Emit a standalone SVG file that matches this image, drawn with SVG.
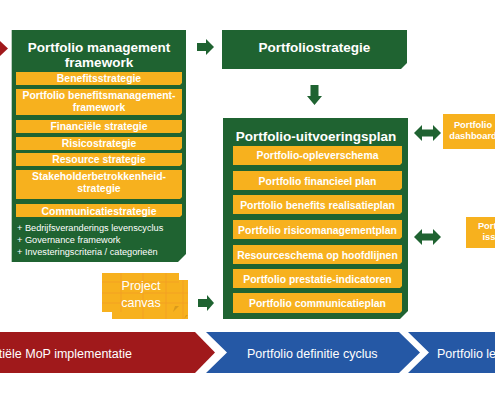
<svg xmlns="http://www.w3.org/2000/svg" width="495" height="400" viewBox="0 0 495 400">
<defs>
<style>
.g{fill:#1F6331}
.o{fill:#F7B11E}
.oc{fill:#D99A1A}
.tt{font-family:"Liberation Sans",Arial,sans-serif;font-weight:bold;font-size:13.5px;fill:#fff;text-anchor:middle}
.bt{font-family:"Liberation Sans",Arial,sans-serif;font-weight:bold;font-size:10.4px;fill:#fff;text-anchor:middle}
.sm{font-family:"Liberation Sans",Arial,sans-serif;font-size:9.2px;fill:#fff}
.st{font-family:"Liberation Sans",Arial,sans-serif;font-weight:bold;font-size:9.3px;fill:#fff;text-anchor:middle}
.ch{font-family:"Liberation Sans",Arial,sans-serif;font-size:12.5px;fill:#fff}
.gl{stroke:#F0982A;stroke-width:0.7;fill:none;opacity:0.8}
</style>
</defs>
<rect width="495" height="400" fill="#fff"/>

<g id="connectors">
<polygon points="0,41 8,48.5 0,56" fill="#A0191B"/>
<polygon class="g" points="197,43 206,43 206,39 214,47 206,55 206,51 197,51"/>
<polygon class="g" points="310.5,85 318.5,85 318.5,96 322,96 314.5,105 307,96 310.5,96"/>
<polygon class="g" points="198,299 207,299 207,295 214,303 207,311 207,307 198,307"/>
<polygon class="g" points="414,133 422,125 422,129.5 433,129.5 433,125 441,133 433,141 433,136.5 422,136.5 422,141"/>
<polygon class="g" points="414,237 422,229 422,233.5 433,233.5 433,229 441,237 433,245 433,240.5 422,240.5 422,245"/>
</g>

<g id="framework">
<path class="g" d="M11.7,30 H186 V254 L178,262 H11.7 Z"/>
<text class="tt" x="99" y="52">Portfolio management</text>
<text class="tt" x="99" y="67">framework</text>
<path class="o" d="M16,72 H182 V83 L180,85 H16 Z"/>
<text class="bt" x="99" y="82">Benefitsstrategie</text>
<path class="o" d="M16,89 H182 V113 L180,115 H16 Z"/>
<text class="bt" x="99" y="99">Portfolio benefitsmanagement-</text>
<text class="bt" x="99" y="111">framework</text>
<path class="o" d="M16,120 H182 V131 L180,133 H16 Z"/>
<text class="bt" x="99" y="130">Financiële strategie</text>
<path class="o" d="M16,137 H182 V148 L180,150 H16 Z"/>
<text class="bt" x="99" y="146.5">Risicostrategie</text>
<path class="o" d="M16,153 H182 V164 L180,166 H16 Z"/>
<text class="bt" x="99" y="163">Resource strategie</text>
<path class="o" d="M16,170 H182 V197 L180,199 H16 Z"/>
<text class="bt" x="99" y="180">Stakeholderbetrokkenheid-</text>
<text class="bt" x="99" y="192">strategie</text>
<path class="o" d="M16,204 H182 V215 L180,217 H16 Z"/>
<text class="bt" x="99" y="214.5">Communicatiestrategie</text>
<text class="sm" x="17" y="230.5">+ Bedrijfsveranderings levenscyclus</text>
<text class="sm" x="17" y="242.5">+ Governance framework</text>
<text class="sm" x="17" y="254.5">+ Investeringscriteria / categorieën</text>
</g>

<g id="portfoliostrategie">
<path class="g" d="M222,30 H407 V63 L401,69 H222 Z"/>
<text class="tt" x="314.5" y="52">Portfoliostrategie</text>
</g>

<g id="uitvoeringsplan">
<path class="g" d="M223,118 H408 V311 L400,319 H223 Z"/>
<text class="tt" x="316" y="141">Portfolio-uitvoeringsplan</text>
<path class="o" d="M233,146 H402 V163 L400,165 H233 Z"/>
<text class="bt" x="317.5" y="159">Portfolio-opleverschema</text>
<path class="o" d="M233,171 H402 V188 L400,190 H233 Z"/>
<text class="bt" x="317.5" y="184.5">Portfolio financieel plan</text>
<path class="o" d="M233,195 H402 V212 L400,214 H233 Z"/>
<text class="bt" x="317.5" y="208.5">Portfolio benefits realisatieplan</text>
<path class="o" d="M233,220 H402 V237 L400,239 H233 Z"/>
<text class="bt" x="317.5" y="233.5">Portfolio risicomanagementplan</text>
<path class="o" d="M233,245 H402 V262 L400,264 H233 Z"/>
<text class="bt" x="317.5" y="258.5">Resourceschema op hoofdlijnen</text>
<path class="o" d="M233,269 H402 V286 L400,288 H233 Z"/>
<text class="bt" x="317.5" y="282.5">Portfolio prestatie-indicatoren</text>
<path class="o" d="M233,293 H402 V311 L400,313 H233 Z"/>
<text class="bt" x="317.5" y="307">Portfolio communicatieplan</text>
</g>

<g id="dashboard">
<rect class="o" x="443" y="114" width="62" height="35"/>
<text class="st" x="473" y="127.5">Portfolio</text>
<text class="st" x="473" y="139">dashboard</text>
</g>

<g id="issues">
<rect class="o" x="466" y="217" width="64" height="31"/>
<text class="st" x="497" y="228.5">Portfolio</text>
<text class="st" x="497" y="240">issues</text>
</g>

<g id="project-canvas">
<path class="o" d="M112,280 H188 V319 H112 Z"/>
<path class="gl" d="M112,293 H188 M112,303 H188 M183,280 V319 M166,312 V319 M143,312 V319"/>
<path class="o" d="M102,273 H179 V306 L173,312 H102 Z"/>
<path class="gl" d="M102,282 H179 M102,293 H179 M102,303 H179 M121,273 V312 M143,273 V312 M166,273 V312"/>
<path class="oc" d="M173,312 L175,306 L179,306 Z"/>
<path class="oc" d="M184,319 L186,315 L188,315 Z"/>
<text class="ch" x="141" y="290" text-anchor="middle" font-size="12">Project</text>
<text class="ch" x="141" y="307" text-anchor="middle" font-size="12">canvas</text>
</g>

<g id="phase-mop">
<polygon points="-10,332 195,332 215,352.5 195,373 -10,373" fill="#A0191B"/>
<text class="ch" x="132" y="357.5" text-anchor="end">Initiële MoP implementatie</text>
</g>

<g id="phase-definitie">
<polygon points="206,332 399,332 420,352.5 399,373 206,373 227,352.5" fill="#2558A5"/>
<text class="ch" x="247" y="357.5">Portfolio definitie cyclus</text>
</g>

<g id="phase-levering">
<polygon points="408,332 510,332 510,373 408,373 429,352.5" fill="#2558A5"/>
<text class="ch" x="437" y="357.5">Portfolio levering cyclus</text>
</g>
</svg>
